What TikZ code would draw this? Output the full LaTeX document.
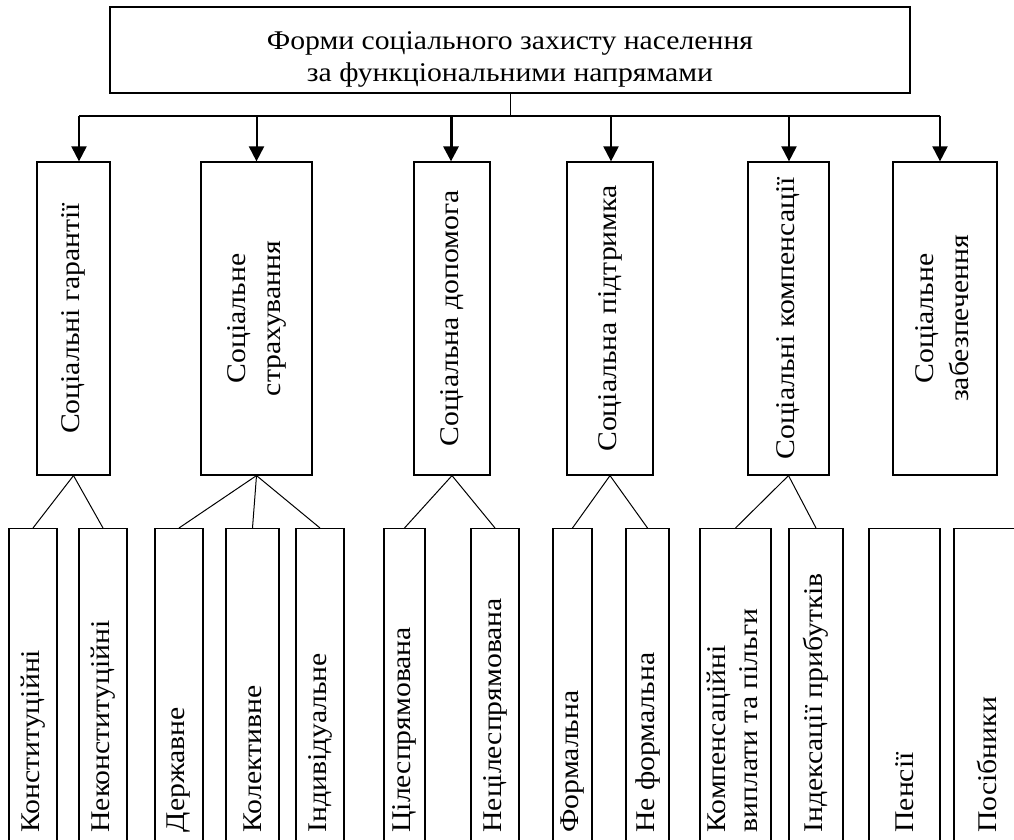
\documentclass[tikz,border=0pt]{standalone}
\usepackage{fontspec}
\setmainfont{Liberation Serif}
\usepackage{graphicx}
\usetikzlibrary{arrows.meta}

\newcommand{\vlabel}[1]{\rotatebox{90}{\scalebox{1.1}[1]{#1}}}

\begin{document}
\begin{tikzpicture}[x=1pt, y=1pt,
  every node/.style={font=\fontsize{27}{32}\selectfont},
  box/.style={draw, line width=1.2pt, inner sep=0pt},
  group/.style={box, minimum height=313pt},
  leaf/.style={box, anchor=north, minimum height=318pt, text height=304pt, text depth=14pt},
  link/.style={line width=1pt},
  arr/.style={line width=2pt, -{Triangle[length=15pt,width=15pt]}}]

  \useasboundingbox (0,0) rectangle (1014,840);
  \clip (0,0) rectangle (1014,840);

  \node[box, minimum width=800pt, minimum height=86pt] (forms) at (510,790)
    {\raisebox{-9pt}[\height][\depth]{\begin{tabular}{@{}c@{}}
       \scalebox{1.1}[1]{Форми соціального захисту населення}\\
       \scalebox{1.1}[1]{за функціональними напрямами}\end{tabular}}};

  \node[group, minimum width=73pt] (guar) at (73.5,521.5) {\vlabel{Соціальні гарантії}};
  \node[group, minimum width=111pt] (insur) at (256.5,521.5)
    {\vlabel{\begin{tabular}{@{}c@{}}Соціальне\\[3pt]страхування\end{tabular}}};
  \node[group, minimum width=76pt] (assist) at (452,521.5) {\vlabel{Соціальна допомога}};
  \node[group, minimum width=86pt] (support) at (610,521.5) {\vlabel{Соціальна підтримка}};
  \node[group, minimum width=81pt] (comp) at (788.5,521.5) {\vlabel{Соціальні компенсації}};
  \node[group, minimum width=104pt] (secur) at (945,521.5)
    {\vlabel{\begin{tabular}{@{}c@{}}Соціальне\\[3pt]забезпечення\end{tabular}}};

  \node[leaf, minimum width=48pt] (const) at (33,312) {\vlabel{Конституційні}};
  \node[leaf, minimum width=48pt] (nonconst) at (103,312) {\vlabel{Неконституційні}};
  \node[leaf, minimum width=48pt] (state) at (179,312) {\vlabel{Державне}};
  \node[leaf, minimum width=53pt] (collect) at (252.5,312) {\vlabel{Колективне}};
  \node[leaf, minimum width=48pt] (indiv) at (320,312) {\vlabel{Індивідуальне}};
  \node[leaf, minimum width=41pt] (target) at (404.5,312) {\vlabel{Цілеспрямована}};
  \node[leaf, minimum width=48pt] (nontarget) at (495,312) {\vlabel{Нецілеспрямована}};
  \node[leaf, minimum width=39pt] (formal) at (572.5,312) {\vlabel{Формальна}};
  \node[leaf, minimum width=43pt] (informal) at (647.5,312) {\vlabel{Не формальна}};
  \node[leaf, minimum width=71pt] (compens) at (735.5,312)
    {\vlabel{\begin{tabular}{@{}l@{}}Компенсаційні\\виплати та пільги\end{tabular}}};
  \node[leaf, minimum width=54pt] (index) at (816,312) {\vlabel{Індексації прибутків}};
  \node[leaf, minimum width=71pt] (pension) at (904.5,312) {\vlabel{Пенсії}};
  \node[leaf, minimum width=66pt] (benefit) at (987,312) {\vlabel{Посібники}};

  \coordinate (bus) at (0,724);
  \foreach \n/\dx in {guar/5.5, insur/0, assist/-1, support/1, comp/0.5, secur/-5}
    \path ([xshift=\dx pt]\n.north) coordinate (tip-\n);

  \draw[link] (forms.south) -- (forms.south |- bus);
  \draw[link, line width=1.2pt] (tip-guar |- bus) -- (tip-secur |- bus);
  \foreach \n/\lw in {guar/2, insur/2, assist/3, support/2, comp/2, secur/2}
    \draw[arr, line width=\lw pt] (tip-\n |- bus) -- (tip-\n);

  \foreach \a/\b in {guar/const, guar/nonconst, insur/state, insur/collect, insur/indiv,
                     assist/target, assist/nontarget, support/formal, support/informal,
                     comp/compens, comp/index}
    \draw[link] (\a.south) -- (\b.north);
\end{tikzpicture}
\end{document}
